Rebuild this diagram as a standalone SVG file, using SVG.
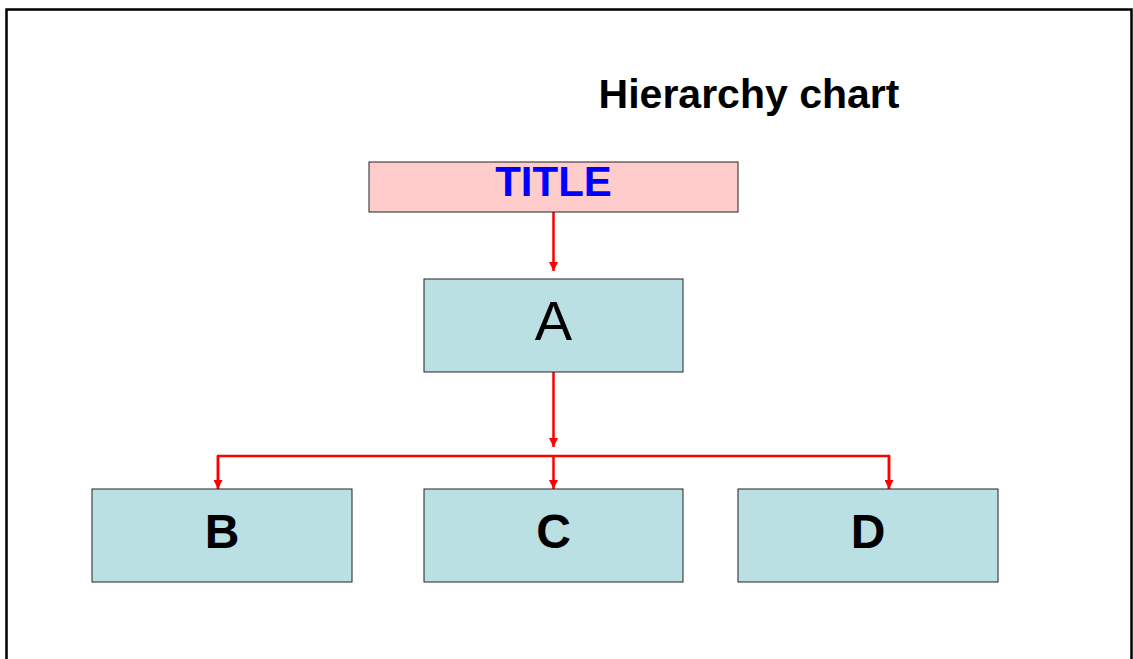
<svg xmlns="http://www.w3.org/2000/svg" width="1133" height="659" viewBox="0 0 1133 659">
<defs>
<style>
.box{fill:#BBE0E3;stroke:#222;stroke-width:1}
.lbl{font-family:"Liberation Sans",Arial,sans-serif;text-anchor:middle;fill:#000}
.con{fill:none;stroke:#FF0000;stroke-width:2.5}
</style>
<marker id="arr" markerWidth="9" markerHeight="9" refX="9" refY="4.5" orient="auto" markerUnits="userSpaceOnUse" viewBox="0 0 9 9">
<path d="M0,0 L9,4.5 L0,9 Z" fill="#FF0000"/>
</marker>
</defs>
<rect x="0" y="0" width="1133" height="659" fill="#fff"/>
<path d="M6.5,670 V9.5 H1131.5 V670" fill="none" stroke="#000" stroke-width="2.5"/>
<text class="lbl" x="749" y="108" font-size="41" font-weight="bold">Hierarchy chart</text>
<g id="connectors">
<line class="con" x1="553.5" y1="212" x2="553.5" y2="271" marker-end="url(#arr)"/>
<line class="con" x1="553.5" y1="372" x2="553.5" y2="447" marker-end="url(#arr)"/>
<path class="con" d="M218,489 V456 H889 V489"/>
<line class="con" x1="218" y1="456" x2="218" y2="489" marker-end="url(#arr)"/>
<line class="con" x1="553.5" y1="456" x2="553.5" y2="489" marker-end="url(#arr)"/>
<line class="con" x1="889" y1="456" x2="889" y2="489" marker-end="url(#arr)"/>
</g>
<g id="node-title">
<rect x="369" y="162" width="369" height="50" fill="#FFCCCC" stroke="#222" stroke-width="1"/>
<text class="lbl" x="553.5" y="196" font-size="42" font-weight="bold" style="fill:#0000FF">TITLE</text>
</g>
<g id="node-a">
<rect class="box" x="424" y="279" width="259" height="93"/>
<text class="lbl" x="553.5" y="340" font-size="56">A</text>
</g>
<g id="node-b">
<rect class="box" x="92" y="489" width="260" height="93"/>
<text class="lbl" x="222" y="548" font-size="48" font-weight="bold">B</text>
</g>
<g id="node-c">
<rect class="box" x="424" y="489" width="259" height="93"/>
<text class="lbl" x="553.5" y="548" font-size="48" font-weight="bold">C</text>
</g>
<g id="node-d">
<rect class="box" x="738" y="489" width="260" height="93"/>
<text class="lbl" x="868" y="548" font-size="48" font-weight="bold">D</text>
</g>
</svg>
